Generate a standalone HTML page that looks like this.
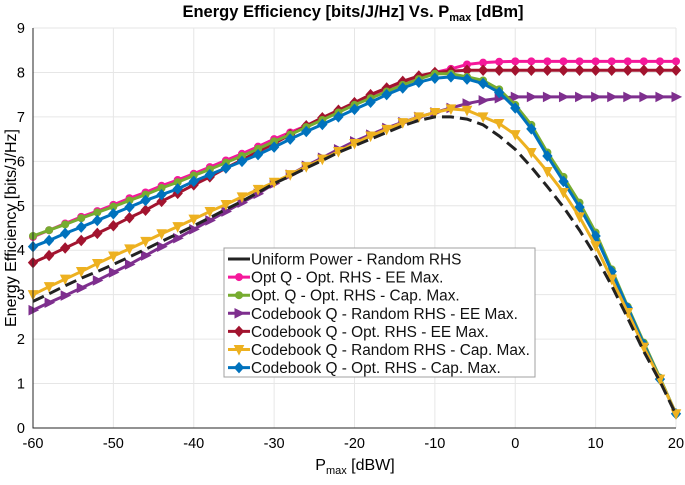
<!DOCTYPE html>
<html><head><meta charset="utf-8"><style>
body{margin:0;background:#fff;font-family:"Liberation Sans",sans-serif}
</style></head><body>
<svg id="c" width="685" height="480" style="font-family:'Liberation Sans',sans-serif">
<text x="353" y="17" text-anchor="middle" font-size="16.5" font-weight="bold">Energy Efficiency [bits/J/Hz] Vs. P<tspan font-size="11" dy="4">max</tspan><tspan dy="-4"> [dBm]</tspan></text>
<text x="355" y="470" text-anchor="middle" font-size="16">P<tspan font-size="11" dy="4">max</tspan><tspan dy="-4"> [dBW]</tspan></text>
<text transform="translate(16,228) rotate(-90)" text-anchor="middle" font-size="16">Energy Efficiency [bits/J/Hz]</text>
<g id="grid"></g><g id="series"></g><g id="axes"></g>
</svg>
<script>
const xVals=[];for(let v=-60;v<=20;v+=2)xVals.push(v);
const xTicks=[-60,-50,-40,-30,-20,-10,0,10,20];
const yTicks=[0,1,2,3,4,5,6,7,8,9];
const uniform=[2.85,3.02,3.2,3.37,3.52,3.68,3.85,4.02,4.2,4.37,4.55,4.73,4.92,5.1,5.3,5.5,5.67,5.85,6.02,6.2,6.35,6.5,6.65,6.8,6.92,7.0,7.0,6.95,6.82,6.57,6.27,5.87,5.43,4.97,4.45,3.87,3.2,2.47,1.72,1.05,0.3];
const optEE=[4.3,4.45,4.6,4.75,4.88,5.02,5.17,5.3,5.45,5.58,5.72,5.87,6.02,6.17,6.33,6.5,6.65,6.8,6.98,7.13,7.3,7.45,7.6,7.75,7.88,8.0,8.08,8.18,8.22,8.24,8.25,8.25,8.25,8.25,8.25,8.25,8.25,8.25,8.25,8.25,8.25];
const optCap=[4.32,4.45,4.58,4.72,4.85,4.98,5.12,5.25,5.4,5.53,5.68,5.82,5.97,6.12,6.28,6.45,6.6,6.77,6.93,7.1,7.27,7.42,7.57,7.72,7.85,7.97,7.97,7.9,7.82,7.62,7.27,6.82,6.2,5.65,5.07,4.4,3.57,2.73,1.92,1.13,0.32];
const cbRandEE=[2.65,2.82,2.98,3.15,3.32,3.5,3.68,3.88,4.08,4.27,4.47,4.67,4.87,5.07,5.27,5.5,5.7,5.9,6.08,6.27,6.45,6.6,6.75,6.88,7.0,7.1,7.2,7.3,7.37,7.42,7.45,7.45,7.45,7.45,7.45,7.45,7.45,7.45,7.45,7.45,7.45];
const cbOptEE=[3.72,3.88,4.05,4.22,4.38,4.55,4.73,4.9,5.1,5.28,5.47,5.65,5.85,6.03,6.22,6.4,6.6,6.8,6.98,7.15,7.32,7.5,7.65,7.8,7.92,8.0,8.03,8.05,8.05,8.05,8.05,8.05,8.05,8.05,8.05,8.05,8.05,8.05,8.05,8.05,8.05];
const cbRandCap=[3.0,3.18,3.35,3.52,3.7,3.87,4.03,4.2,4.37,4.53,4.7,4.87,5.03,5.2,5.37,5.53,5.7,5.88,6.05,6.22,6.4,6.57,6.72,6.87,7.0,7.1,7.18,7.15,7.0,6.85,6.6,6.2,5.77,5.3,4.75,4.1,3.35,2.6,1.82,1.1,0.32];
const cbOptCap=[4.08,4.22,4.38,4.52,4.67,4.82,4.97,5.12,5.25,5.38,5.55,5.7,5.85,6.0,6.15,6.32,6.5,6.67,6.83,7.0,7.17,7.33,7.5,7.65,7.78,7.87,7.9,7.85,7.75,7.55,7.2,6.73,6.12,5.55,4.97,4.32,3.52,2.7,1.88,1.1,0.32];
const legendLabels=["Uniform Power - Random RHS","Opt Q - Opt. RHS - EE Max.","Opt. Q - Opt. RHS - Cap. Max.","Codebook Q - Random RHS - EE Max.","Codebook Q - Opt. RHS - EE Max.","Codebook Q - Random RHS - Cap. Max.","Codebook Q - Opt. RHS - Cap. Max."];

const L=33,R=676,T=28,B=428,NS="http://www.w3.org/2000/svg";
const sx=v=>L+(v+60)/80*(R-L), sy=v=>B-v/9*(B-T);
function mk(t,a,p){const e=document.createElementNS(NS,t);for(const k in a)e.setAttribute(k,a[k]);p.appendChild(e);return e;}
const grid=document.getElementById('grid'),axes=document.getElementById('axes'),ser=document.getElementById('series');
xTicks.forEach(v=>{const l=mk('line',{x1:sx(v),x2:sx(v),y1:T,y2:B,stroke:'#e6e6e6'},grid);

const t=mk('text',{x:sx(v),y:B+20,'text-anchor':'middle','font-size':14.5},axes);t.textContent=v;
});
yTicks.forEach(v=>{const l=mk('line',{x1:L,x2:R,y1:sy(v),y2:sy(v),stroke:'#e6e6e6'},grid);

const t=mk('text',{x:L-8,y:sy(v)+5,'text-anchor':'end','font-size':14.5},axes);t.textContent=v;
});
const ax=mk('path',{d:`M${L},${T}V${B}H${R}`,fill:'none',stroke:'#262626','stroke-width':1},axes);


function marker(type,x,y,c,g){
 if(type==='circle')return mk('circle',{cx:x,cy:y,r:3.5,fill:c,stroke:c},g);
 let pts;
 if(type==='right')pts=[[x-4,y-4.5],[x+5,y],[x-4,y+4.5]];
 else if(type==='down')pts=[[x-4.5,y-4],[x+4.5,y-4],[x,y+5]];
 else pts=[[x,y-5],[x+4.5,y],[x,y+5],[x-4.5,y]];
 return mk('polygon',{points:pts.map(p=>p.join(',')).join(' '),fill:c,stroke:c},g);
}
const series=[
 {d:uniform,c:'#222',m:null,name:'uniform-power-line'},
 {d:optEE,c:'#f5189b',m:'circle',name:'opt-q-ee-line'},
 {d:optCap,c:'#77ac30',m:'circle',name:'opt-q-cap-line'},
 {d:cbRandEE,c:'#7e2f8e',m:'right',name:'codebook-random-ee-line'},
 {d:cbOptEE,c:'#a2142f',m:'diamond',name:'codebook-opt-ee-line'},
 {d:cbRandCap,c:'#edb120',m:'down',name:'codebook-random-cap-line'},
 {d:cbOptCap,c:'#0072bd',m:'diamond',name:'codebook-opt-cap-line'}];
const order=[1,4,3,2,6,5,0];
order.forEach(i=>{const s=series[i];const g=mk('g',{},ser);
 
 const p=mk('polyline',{points:s.d.map((v,j)=>sx(xVals[j])+','+sy(v)).join(' '),fill:'none',stroke:s.c,'stroke-width':3,'stroke-dasharray':s.m?'none':'12,6'},g);
 
 if(s.m)s.d.forEach((v,j)=>{const m=marker(s.m,sx(xVals[j]),sy(v),s.c,g);
  });
});
const lg=mk('g',{},axes);
const lb=mk('rect',{x:224,y:248,width:311,height:129,fill:'#fff',stroke:'#a0a0a0'},lg);

legendLabels.forEach((t,i)=>{const y=259+i*18.1,s=series[i];
 const g=mk('g',{},lg);
 mk('line',{x1:228,x2:250,y1:y,y2:y,stroke:s.c,'stroke-width':3},g);
 if(s.m)marker(s.m,239,y,s.c,g);
 const tx=mk('text',{x:251,y:y+5.5,'font-size':15.4,fill:'#111'},g);tx.textContent=t;
 });
</script>
</body></html>
